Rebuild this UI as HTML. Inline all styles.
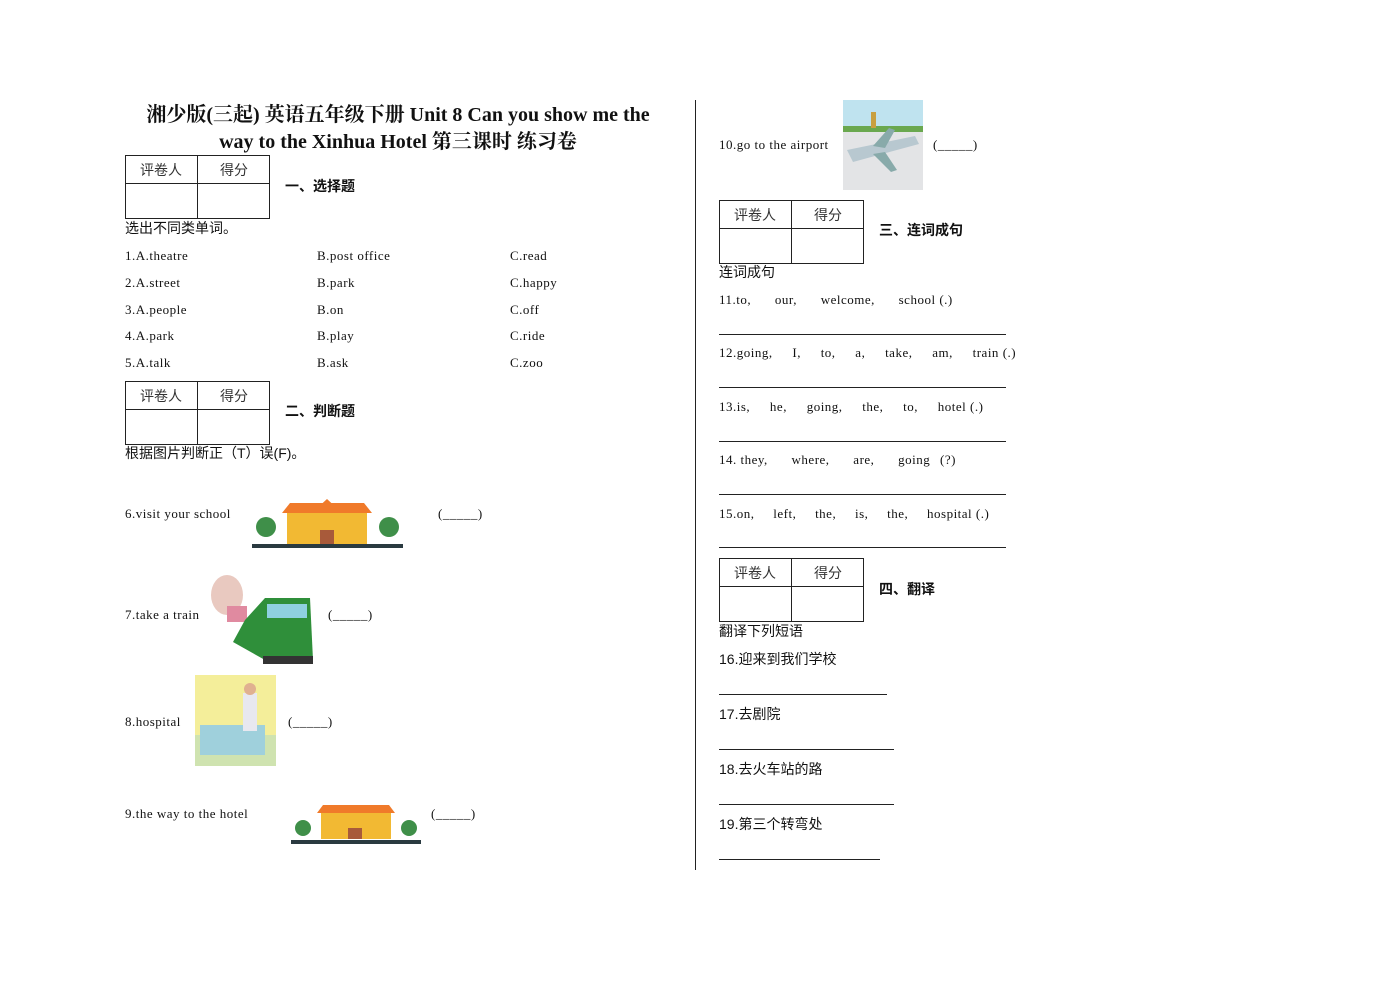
<!DOCTYPE html>
<html><head><meta charset="utf-8"><style>
body{margin:0;width:1390px;height:984px;background:#fff;position:relative;overflow:hidden;font-family:"Liberation Serif","Noto Serif CJK SC",serif;color:#111}
.t{position:absolute;font-size:13px;white-space:nowrap;line-height:16px;letter-spacing:0.5px}
.c{font-family:"Liberation Sans","Noto Sans CJK SC",sans-serif;font-size:14px;letter-spacing:0}
.h{font-family:"Liberation Sans","Noto Sans CJK SC",sans-serif;font-weight:bold;font-size:14px;letter-spacing:0}
.tb{position:absolute;width:145px;height:64px;border:1px solid #222;box-sizing:border-box}
.tb:before{content:"";position:absolute;left:71px;top:0;bottom:0;border-left:1px solid #222}
.tb:after{content:"";position:absolute;left:0;right:0;top:27px;border-top:1px solid #222}
.tb span{position:absolute;top:4px;font-family:"Liberation Sans","Noto Sans CJK SC",sans-serif;font-size:14px;color:#333}
.ln{position:absolute;border-top:1px solid #222;height:0}
.title{position:absolute;left:120px;width:556px;text-align:center;font-weight:bold;font-size:20px;line-height:27px;font-family:"Liberation Serif","Noto Serif CJK SC",serif}
</style></head><body>
<div class="title" style="top:102px">湘少版(三起) 英语五年级下册 Unit 8 Can you show me the<br>way to the Xinhua Hotel 第三课时 练习卷</div>

<div class="tb" style="left:125px;top:155px"><span style="left:14px">评卷人</span><span style="left:94px">得分</span></div>
<div class="t h" style="left:285px;top:178px">一、选择题</div>
<div class="t c" style="left:125px;top:220px">选出不同类单词。</div>
<div class="t" style="left:125px;top:248px">1.A.theatre</div><div class="t" style="left:317px;top:248px">B.post office</div><div class="t" style="left:510px;top:248px">C.read</div>
<div class="t" style="left:125px;top:275px">2.A.street</div><div class="t" style="left:317px;top:275px">B.park</div><div class="t" style="left:510px;top:275px">C.happy</div>
<div class="t" style="left:125px;top:302px">3.A.people</div><div class="t" style="left:317px;top:302px">B.on</div><div class="t" style="left:510px;top:302px">C.off</div>
<div class="t" style="left:125px;top:328px">4.A.park</div><div class="t" style="left:317px;top:328px">B.play</div><div class="t" style="left:510px;top:328px">C.ride</div>
<div class="t" style="left:125px;top:355px">5.A.talk</div><div class="t" style="left:317px;top:355px">B.ask</div><div class="t" style="left:510px;top:355px">C.zoo</div>

<div class="tb" style="left:125px;top:381px"><span style="left:14px">评卷人</span><span style="left:94px">得分</span></div>
<div class="t h" style="left:285px;top:403px">二、判断题</div>
<div class="t c" style="left:125px;top:445px">根据图片判断正（T）误(F)。</div>

<div class="t" style="left:125px;top:506px">6.visit your school</div>
<svg style="position:absolute;left:252px;top:497px" width="151" height="53"><rect x="35" y="14" width="80" height="33" fill="#f2b933"/><polygon points="30,16 120,16 112,6 38,6" fill="#f07a2a"/><polygon points="62,14 75,2 88,14" fill="#f07a2a"/><rect x="68" y="33" width="14" height="14" fill="#a85a3a"/><circle cx="14" cy="30" r="10" fill="#3f8f49"/><circle cx="137" cy="30" r="10" fill="#3f8f49"/><rect x="0" y="47" width="151" height="4" fill="#2a3a40"/></svg>
<div class="t" style="left:438px;top:506px">(_____)</div>

<div class="t" style="left:125px;top:607px">7.take a train</div>
<svg style="position:absolute;left:205px;top:570px" width="111" height="96"><ellipse cx="22" cy="25" rx="16" ry="20" fill="#e9c9c0"/><rect x="22" y="36" width="20" height="16" fill="#e08aa0"/><polygon points="40,50 60,28 105,28 108,90 60,90 28,72" fill="#2f8f3a"/><rect x="62" y="34" width="40" height="14" fill="#8fd0e0"/><rect x="58" y="86" width="50" height="8" fill="#333"/></svg>
<div class="t" style="left:328px;top:607px">(_____)</div>

<div class="t" style="left:125px;top:714px">8.hospital</div>
<svg style="position:absolute;left:195px;top:675px" width="81" height="91"><rect width="81" height="91" fill="#f4ee9a"/><rect x="0" y="60" width="81" height="31" fill="#cfe3b0"/><rect x="5" y="50" width="65" height="30" fill="#9fd0dc"/><rect x="48" y="18" width="14" height="38" fill="#e8e8f0"/><circle cx="55" cy="14" r="6" fill="#e0b090"/></svg>
<div class="t" style="left:288px;top:714px">(_____)</div>

<div class="t" style="left:125px;top:806px">9.the way to the hotel</div>
<svg style="position:absolute;left:291px;top:800px" width="130" height="44"><rect x="30" y="12" width="70" height="27" fill="#f2b933"/><polygon points="26,13 104,13 98,5 32,5" fill="#f07a2a"/><rect x="57" y="28" width="14" height="11" fill="#a85a3a"/><circle cx="12" cy="28" r="8" fill="#3f8f49"/><circle cx="118" cy="28" r="8" fill="#3f8f49"/><rect x="0" y="40" width="130" height="4" fill="#2a3a40"/></svg>
<div class="t" style="left:431px;top:806px">(_____)</div>

<div class="ln" style="left:695px;top:100px;width:0;height:770px;border-top:none;border-left:1px solid #222"></div>

<div class="t" style="left:719px;top:137px">10.go to the airport</div>
<svg style="position:absolute;left:843px;top:100px" width="80" height="90"><rect width="80" height="30" fill="#bfe3ef"/><rect y="26" width="80" height="6" fill="#6aa84f"/><rect y="32" width="80" height="58" fill="#e3e4e6"/><rect x="28" y="12" width="5" height="16" fill="#c8a040"/><polygon points="4,50 72,36 76,44 10,62" fill="#b8c8d0"/><polygon points="30,46 46,28 52,30 42,48" fill="#8aa"/><polygon points="30,54 48,72 54,70 42,52" fill="#8aa"/></svg>
<div class="t" style="left:933px;top:137px">(_____)</div>

<div class="tb" style="left:719px;top:200px"><span style="left:14px">评卷人</span><span style="left:94px">得分</span></div>
<div class="t h" style="left:879px;top:222px">三、连词成句</div>
<div class="t c" style="left:719px;top:264px">连词成句</div>
<div class="t" style="left:719px;top:292px;word-spacing:20px">11.to, our, welcome, school<span style="word-spacing:0"> (.)</span></div>
<div class="ln" style="left:719px;top:334px;width:287px"></div>
<div class="t" style="left:719px;top:345px;word-spacing:16px">12.going, I, to, a, take, am, train<span style="word-spacing:0"> (.)</span></div>
<div class="ln" style="left:719px;top:387px;width:287px"></div>
<div class="t" style="left:719px;top:399px;word-spacing:16px">13.is, he, going, the, to, hotel<span style="word-spacing:0"> (.)</span></div>
<div class="ln" style="left:719px;top:441px;width:287px"></div>
<div class="t" style="left:719px;top:452px;word-spacing:20px"><span style="word-spacing:0">14. they,</span> where, are, going<span style="word-spacing:6px"> (?)</span></div>
<div class="ln" style="left:719px;top:494px;width:287px"></div>
<div class="t" style="left:719px;top:506px;word-spacing:15px">15.on, left, the, is, the, hospital<span style="word-spacing:0"> (.)</span></div>
<div class="ln" style="left:719px;top:547px;width:287px"></div>

<div class="tb" style="left:719px;top:558px"><span style="left:14px">评卷人</span><span style="left:94px">得分</span></div>
<div class="t h" style="left:879px;top:581px">四、翻译</div>
<div class="t c" style="left:719px;top:623px">翻译下列短语</div>
<div class="t c" style="left:719px;top:651px">16.迎来到我们学校</div>
<div class="ln" style="left:719px;top:694px;width:168px"></div>
<div class="t c" style="left:719px;top:706px">17.去剧院</div>
<div class="ln" style="left:719px;top:749px;width:175px"></div>
<div class="t c" style="left:719px;top:761px">18.去火车站的路</div>
<div class="ln" style="left:719px;top:804px;width:175px"></div>
<div class="t c" style="left:719px;top:816px">19.第三个转弯处</div>
<div class="ln" style="left:719px;top:859px;width:161px"></div>
</body></html>
